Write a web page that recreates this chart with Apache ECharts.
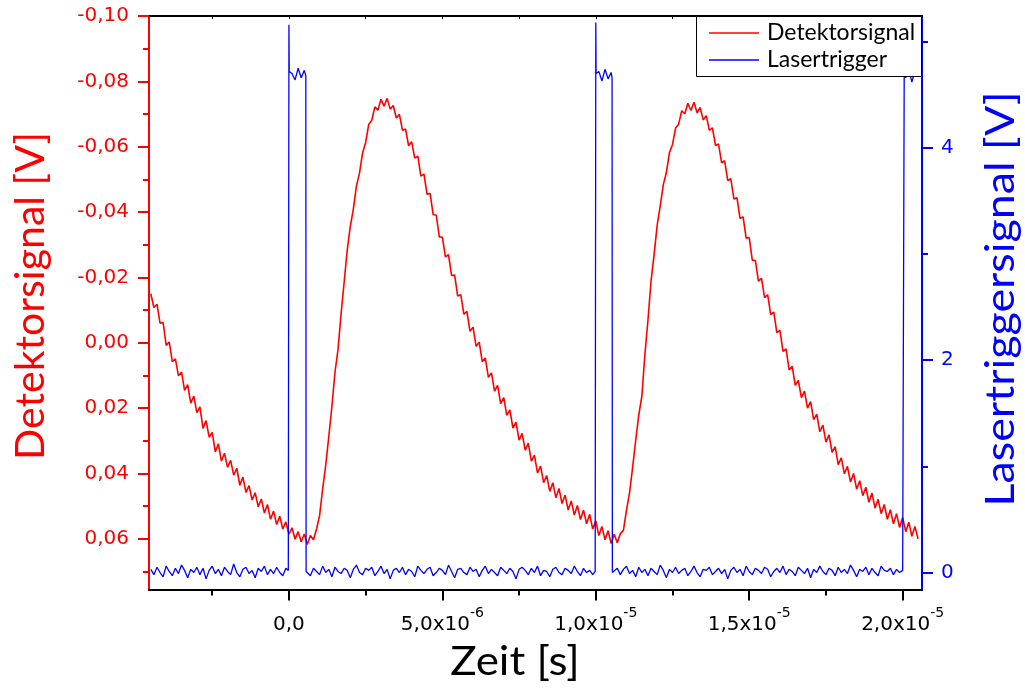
<!DOCTYPE html>
<html><head><meta charset="utf-8">
<script src="https://cdn.jsdelivr.net/npm/echarts@6/dist/echarts.min.js"></script>
<style>html,body{margin:0;padding:0;background:#fff}#c{width:1025px;height:691px}</style>
</head><body><div id="c"></div>
<script>
const seriesNames = ['Detektorsignal', 'Lasertrigger'];
const timeStartUs = -4.5, timeStepUs = 0.1;
// Detektorsignal [V], sampled every 0.1 µs from -4.5 µs to 20.5 µs
const detektorV = [
 -0.0150,-0.0108,-0.0118,-0.0060,-0.0062,0.0008,-0.0002,0.0058,0.0049,0.0101,
 0.0090,0.0146,0.0128,0.0185,0.0163,0.0214,0.0196,0.0262,0.0238,0.0289,
 0.0274,0.0334,0.0309,0.0362,0.0338,0.0381,0.0360,0.0405,0.0384,0.0436,
 0.0411,0.0458,0.0437,0.0481,0.0459,0.0502,0.0478,0.0521,0.0495,0.0540,
 0.0515,0.0556,0.0531,0.0570,0.0548,0.0586,0.0566,0.0601,0.0578,0.0609,
 0.0585,0.0617,0.0590,0.0603,0.0570,0.0528,0.0446,0.0374,0.0286,0.0195,
 0.0091,0.0020,-0.0089,-0.0186,-0.0284,-0.0356,-0.0410,-0.0480,-0.0519,-0.0581,
 -0.0613,-0.0668,-0.0681,-0.0722,-0.0712,-0.0745,-0.0724,-0.0748,-0.0715,-0.0726,
 -0.0688,-0.0699,-0.0650,-0.0654,-0.0603,-0.0615,-0.0565,-0.0571,-0.0510,-0.0516,
 -0.0455,-0.0457,-0.0392,-0.0391,-0.0324,-0.0323,-0.0263,-0.0270,-0.0206,-0.0207,
 -0.0143,-0.0147,-0.0088,-0.0096,-0.0035,-0.0048,0.0011,-0.0002,0.0058,0.0047,
 0.0106,0.0092,0.0148,0.0130,0.0186,0.0168,0.0222,0.0205,0.0261,0.0243,
 0.0298,0.0277,0.0329,0.0307,0.0362,0.0344,0.0398,0.0377,0.0428,0.0406,
 0.0455,0.0428,0.0474,0.0446,0.0492,0.0466,0.0512,0.0484,0.0527,0.0498,
 0.0541,0.0512,0.0554,0.0525,0.0570,0.0545,0.0590,0.0562,0.0603,0.0575,
 0.0614,0.0586,0.0612,0.0584,0.0574,0.0512,0.0459,0.0381,0.0299,0.0221,
 0.0164,0.0036,-0.0069,-0.0189,-0.0270,-0.0360,-0.0419,-0.0484,-0.0521,-0.0582,
 -0.0607,-0.0657,-0.0669,-0.0710,-0.0701,-0.0733,-0.0711,-0.0736,-0.0704,-0.0720,
 -0.0682,-0.0695,-0.0650,-0.0658,-0.0604,-0.0608,-0.0551,-0.0557,-0.0496,-0.0502,
 -0.0440,-0.0444,-0.0381,-0.0385,-0.0320,-0.0322,-0.0253,-0.0252,-0.0189,-0.0197,
 -0.0138,-0.0147,-0.0086,-0.0094,-0.0031,-0.0038,0.0026,0.0019,0.0083,0.0072,
 0.0130,0.0115,0.0168,0.0148,0.0200,0.0180,0.0235,0.0218,0.0272,0.0252,
 0.0304,0.0282,0.0335,0.0318,0.0373,0.0352,0.0401,0.0378,0.0426,0.0400,
 0.0448,0.0422,0.0468,0.0442,0.0488,0.0460,0.0506,0.0479,0.0523,0.0495,
 0.0540,0.0511,0.0554,0.0523,0.0565,0.0535,0.0578,0.0549,0.0592,0.0562,
 0.0600
];
// Lasertrigger [V]: segments sampled every 0.1 µs, each with its start time (µs)
const laserBaseA = { startUs: -4.5, v: [
 0.03,-0.02,0.05,0.00,-0.04,0.06,0.01,-0.03,0.04,-0.01,
 0.07,0.02,-0.05,0.03,0.00,0.05,-0.02,0.04,-0.06,0.02,
 0.06,-0.01,0.03,-0.03,0.05,0.01,-0.02,0.08,0.00,-0.04,
 0.03,0.05,-0.01,0.02,-0.05,0.04,0.01,0.06,-0.02,0.03,
 -0.01,0.05,0.00,-0.03,0.04] };
const laserPulse1 = { startUs: 0.1, v: [4.70,4.64,4.75,4.66,4.73] };
const laserBaseB = { startUs: 0.6, v: [
 0.02,-0.03,0.04,0.01,-0.02,0.06,0.00,0.03,-0.04,0.05,
 0.01,-0.01,0.04,0.02,-0.05,0.03,0.07,0.00,-0.02,0.04,
 0.02,0.05,-0.03,0.01,0.06,-0.01,0.03,-0.06,0.02,0.04,
 0.00,0.05,-0.02,0.03,0.01,-0.04,0.06,0.02,-0.01,0.03,
 0.05,-0.03,0.00,0.04,0.02,-0.02,0.07,0.01,-0.05,0.03,
 0.04,0.00,-0.02,0.05,0.01,0.03,-0.04,0.02,0.06,-0.01,
 0.03,0.00,-0.03,0.05,0.02,-0.01,0.04,0.01,-0.06,0.03,
 0.05,0.02,-0.02,0.04,0.00,0.06,-0.03,0.02,0.01,-0.04,
 0.03,0.05,0.00,-0.02,0.04,0.02,-0.01,0.06,0.01,-0.03,
 0.04,0.00,0.02,-0.02] };
const laserPulse2 = { startUs: 10.1, v: [4.72,4.63,4.74,4.65,4.71] };
const laserBaseC = { startUs: 10.6, v: [
 0.01,0.04,-0.02,0.03,0.06,-0.01,0.02,-0.04,0.05,0.00,
 0.03,-0.03,0.04,0.01,-0.02,0.07,0.02,-0.05,0.03,0.00,
 0.05,-0.01,0.02,0.04,-0.03,0.01,0.06,0.00,-0.04,0.03,
 0.02,0.05,-0.02,0.01,0.04,-0.01,0.03,-0.06,0.02,0.05,
 0.00,0.03,-0.03,0.06,0.01,-0.02,0.04,0.02,-0.01,0.05,
 0.03,-0.04,0.01,0.04,0.00,0.06,-0.02,0.03,0.01,-0.03,
 0.05,0.02,-0.01,0.04,-0.05,0.03,0.00,0.06,0.01,-0.02,
 0.04,0.02,-0.03,0.05,0.00,0.03,-0.01,0.07,0.02,-0.04,
 0.03,0.01,0.05,-0.02,0.04,0.00,-0.03,0.06,0.02,0.01,
 0.04,-0.02,0.03,0.00,0.02] };
const laserPulse3 = { startUs: 20.1, v: [4.66,4.74,4.62,4.73,4.68] };
// edge points [µs, V] where the trigger switches (incl. the overshoot spike at each rise)
const laserEdges = [[-0.02,0.02],[0.0,5.16],[0.01,4.72],[0.55,4.68],[0.56,0.01],
  [9.98,0.01],[10.0,5.18],[10.01,4.70],[10.53,4.66],[10.54,0.00],[20.04,0.03],[20.05,4.70]];

const xTickValues = [0, 5e-6, 1e-5, 1.5e-5, 2e-5];
const xTickMantissa = ['0,0', '5,0', '1,0', '1,5', '2,0'];
const xTickExponent = ['', '-6', '-5', '-5', '-5'];
const xMinorTicks = [-2.5e-6, 2.5e-6, 7.5e-6, 1.25e-5, 1.75e-5];
const leftTickValues = [-0.10, -0.08, -0.06, -0.04, -0.02, 0, 0.02, 0.04, 0.06];
const leftMinorTicks = [-0.09, -0.07, -0.05, -0.03, -0.01, 0.01, 0.03, 0.05, 0.07];
const rightTickValues = [0, 2, 4];
const rightMinorTicks = [1, 3, 5];

const X_MIN = -4.56e-6, X_MAX = 2.063e-5;
const YL_MIN = -0.10, YL_MAX = 0.0755;
const YR_MIN = -0.16, YR_MAX = 5.242;

const RED = '#ff0000', BLUE = '#0000ff';

const detData = detektorV.map((v, i) => [(timeStartUs + i * timeStepUs) * 1e-6, v]);
let laserPts = [];
[laserBaseA, laserPulse1, laserBaseB, laserPulse2, laserBaseC, laserPulse3].forEach(seg => {
  seg.v.forEach((v, i) => laserPts.push([(seg.startUs + i * timeStepUs) * 1e-6, v]));
});
laserEdges.forEach(p => laserPts.push([p[0] * 1e-6, p[1]]));
laserPts.sort((a, b) => a[0] - b[0]);

const chart = echarts.init(document.getElementById('c'), null, {renderer: 'canvas'});
const tickFont = 'DejaVu Sans';
const titleFont = 'Lato';

function xLabel(v) {
  let idx = 0, best = Infinity;
  xTickValues.forEach((t, i) => { const d = Math.abs(t - v); if (d < best) { best = d; idx = i; } });
  if (!xTickExponent[idx]) return '{m|' + xTickMantissa[idx] + '}';
  return '{m|' + xTickMantissa[idx] + 'x10}{e|' + xTickExponent[idx] + '}';
}

chart.setOption({
  animation: false,
  backgroundColor: '#fff',
  grid: { left: 149, top: 16, right: 103, bottom: 101.5, containLabel: false },
  legend: {
    data: seriesNames, orient: 'vertical', left: 709, top: 21, padding: 0, itemGap: 3,
    itemWidth: 50, itemHeight: 1.5, icon: 'rect', z: 20,
    textStyle: { fontFamily: titleFont, fontSize: 23, color: '#000', lineHeight: 24, padding: [0, 0, 0, 3] }
  },
  xAxis: [
    { type: 'value', position: 'bottom', min: X_MIN, max: X_MAX,
      axisLine: { show: true, onZero: false, lineStyle: { color: '#000', width: 2 } },
      axisTick: { show: true, inside: false, length: 11, customValues: xTickValues, lineStyle: { color: '#000', width: 2 } },
      axisLabel: { show: true, customValues: xTickValues, margin: 17, formatter: xLabel,
        rich: { m: { fontFamily: tickFont, fontSize: 20, color: '#000', lineHeight: 28, verticalAlign: 'bottom' },
                e: { fontFamily: tickFont, fontSize: 14, color: '#000', lineHeight: 14, verticalAlign: 'top' } } },
      splitLine: { show: false } },
    { type: 'value', position: 'bottom', min: X_MIN, max: X_MAX,
      axisLine: { show: false, onZero: false },
      axisTick: { show: true, inside: false, length: 6, customValues: xMinorTicks, lineStyle: { color: '#000', width: 2 } },
      axisLabel: { show: false }, splitLine: { show: false } },
    { type: 'value', position: 'top', min: X_MIN, max: X_MAX,
      axisLine: { show: true, onZero: false, lineStyle: { color: '#000', width: 2 } },
      axisTick: { show: true, inside: true, length: 3, customValues: xTickValues.concat(xMinorTicks), lineStyle: { color: '#000', width: 1 } },
      axisLabel: { show: false }, splitLine: { show: false } }
  ],
  yAxis: [
    { type: 'value', position: 'left', inverse: true, min: YL_MIN, max: YL_MAX,
      axisLine: { show: true, onZero: false, lineStyle: { color: RED, width: 2 } },
      axisTick: { show: true, inside: false, length: 11, customValues: leftTickValues, lineStyle: { color: RED, width: 2 } },
      axisLabel: { show: true, customValues: leftTickValues, margin: 20, fontFamily: tickFont, fontSize: 20, color: RED,
        formatter: v => (Math.abs(v) < 1e-9 ? 0 : v).toFixed(2).replace('.', ',') },
      splitLine: { show: false } },
    { type: 'value', position: 'left', inverse: true, min: YL_MIN, max: YL_MAX,
      axisLine: { show: false, onZero: false },
      axisTick: { show: true, inside: false, length: 6, customValues: leftMinorTicks, lineStyle: { color: RED, width: 2 } },
      axisLabel: { show: false }, splitLine: { show: false } },
    { type: 'value', position: 'right', min: YR_MIN, max: YR_MAX,
      axisLine: { show: true, onZero: false, lineStyle: { color: BLUE, width: 2 } },
      axisTick: { show: true, inside: false, length: 11, customValues: rightTickValues, lineStyle: { color: BLUE, width: 2 } },
      axisLabel: { show: true, customValues: rightTickValues, margin: 19, fontFamily: tickFont, fontSize: 20, color: BLUE,
        formatter: v => String(Math.round(v)) },
      splitLine: { show: false } },
    { type: 'value', position: 'right', min: YR_MIN, max: YR_MAX,
      axisLine: { show: false, onZero: false },
      axisTick: { show: true, inside: false, length: 6, customValues: rightMinorTicks, lineStyle: { color: BLUE, width: 2 } },
      axisLabel: { show: false }, splitLine: { show: false } }
  ],
  series: [
    { name: seriesNames[0], type: 'line', xAxisIndex: 0, yAxisIndex: 0, data: detData,
      symbol: 'none', showSymbol: false, lineStyle: { color: RED, width: 1.6 }, itemStyle: { color: RED }, z: 2 },
    { name: seriesNames[1], type: 'line', xAxisIndex: 0, yAxisIndex: 2, data: laserPts,
      symbol: 'none', showSymbol: false, lineStyle: { color: BLUE, width: 1.3 }, itemStyle: { color: BLUE }, z: 3 }
  ],
  graphic: [
    { type: 'rect', left: 696, top: 16, z: 10, shape: { width: 225, height: 60 },
      style: { fill: '#fff', stroke: '#000', lineWidth: 1 } },
    { type: 'text', x: 515, y: 662, z: 10, scaleX: 1.1,
      style: { text: 'Zeit [s]', font: '40px Lato', fill: '#000', align: 'center', verticalAlign: 'middle' } },
    { type: 'text', x: 31, y: 296, rotation: Math.PI / 2, z: 10, scaleX: 1.025,
      style: { text: 'Detektorsignal [V]', font: '40px Lato', fill: RED, align: 'center', verticalAlign: 'middle' } },
    { type: 'text', x: 1001, y: 299, rotation: Math.PI / 2, z: 10, scaleX: 1.12,
      style: { text: 'Lasertriggersignal [V]', font: '40px Lato', fill: BLUE, align: 'center', verticalAlign: 'middle' } }
  ]
});
</script>
</body></html>
